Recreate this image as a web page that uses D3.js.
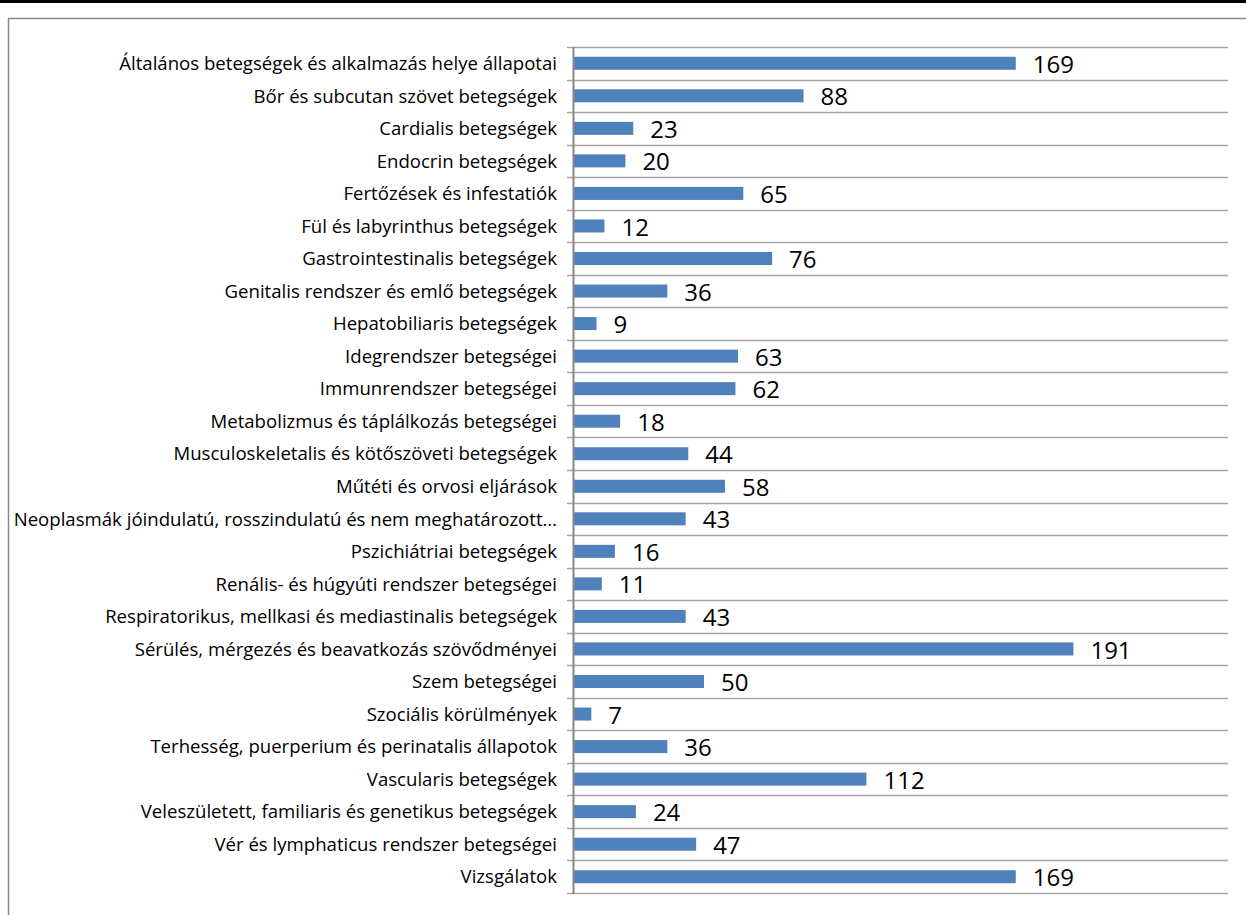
<!DOCTYPE html>
<html>
<head>
<meta charset="utf-8">
<script src="https://cdn.jsdelivr.net/npm/d3@7"></script>
<style>
  body { margin: 0; background: #fff; }
  svg { display: block; }
  text { font-family: "Open Sans", "Noto Sans", sans-serif; fill: #000; }
</style>
</head>
<body>
<div id="chart"></div>
<script>
// categories (top to bottom) and counts
const categories = [
  "Általános betegségek és alkalmazás helye állapotai",
  "Bőr és subcutan szövet betegségek",
  "Cardialis betegségek",
  "Endocrin betegségek",
  "Fertőzések és infestatiók",
  "Fül és labyrinthus betegségek",
  "Gastrointestinalis betegségek",
  "Genitalis rendszer és emlő betegségek",
  "Hepatobiliaris betegségek",
  "Idegrendszer betegségei",
  "Immunrendszer betegségei",
  "Metabolizmus és táplálkozás betegségei",
  "Musculoskeletalis és kötőszöveti betegségek",
  "Műtéti és orvosi eljárások",
  "Neoplasmák jóindulatú, rosszindulatú és nem meghatározott…",
  "Pszichiátriai betegségek",
  "Renális- és húgyúti rendszer betegségei",
  "Respiratorikus, mellkasi és mediastinalis betegségek",
  "Sérülés, mérgezés és beavatkozás szövődményei",
  "Szem betegségei",
  "Szociális körülmények",
  "Terhesség, puerperium és perinatalis állapotok",
  "Vascularis betegségek",
  "Veleszületett, familiaris és genetikus betegségek",
  "Vér és lymphaticus rendszer betegségei",
  "Vizsgálatok"
];
const counts = [169, 88, 23, 20, 65, 12, 76, 36, 9, 63, 62, 18, 44, 58, 43, 16, 11, 43, 191, 50, 7, 36, 112, 24, 47, 169];
const xMax = 250;

const width = 1246, height = 915;
const plot = {left: 573, right: 1228, top: 47, bottom: 893};

const svg = d3.select("#chart").append("svg")
  .attr("width", width)
  .attr("height", height);

// top black rule and chart frame
svg.append("rect").attr("x", 0).attr("y", 0).attr("width", width).attr("height", 3).attr("fill", "#000");
svg.append("rect")
  .attr("x", 8.5).attr("y", 18.5)
  .attr("width", width + 20).attr("height", height + 20)
  .attr("fill", "none").attr("stroke", "#878787").attr("stroke-width", 1.5);

const x = d3.scaleLinear().domain([0, xMax]).range([plot.left, plot.right]);
const y = d3.scaleBand().domain(categories).range([plot.top, plot.bottom]).paddingInner(0.6).paddingOuter(0.3);
const yEdges = d3.scaleBand().domain(categories).range([plot.top, plot.bottom]);

// horizontal separators between categories
const edges = categories.map(c => yEdges(c)).concat([plot.bottom]);
svg.append("g").selectAll("line")
  .data(edges)
  .join("line")
  .attr("x1", plot.left - 6).attr("x2", plot.right)
  .attr("y1", d => Math.round(d) + 0.5).attr("y2", d => Math.round(d) + 0.5)
  .attr("stroke", "#a6a6a6").attr("stroke-width", 1.5);

// bars
svg.append("g").selectAll("rect")
  .data(counts)
  .join("rect")
  .attr("x", x(0))
  .attr("y", (d, i) => y(categories[i]))
  .attr("width", d => x(d) - x(0))
  .attr("height", y.bandwidth())
  .attr("fill", "#4f81bd");

// value labels
svg.append("g").selectAll("text")
  .data(counts)
  .join("text")
  .attr("x", d => x(d) + 17)
  .attr("y", (d, i) => yEdges(categories[i]) + yEdges.bandwidth() / 2)
  .attr("dy", "0.4em")
  .attr("font-size", 24)
  .text(d => d);

// category labels
svg.append("g").selectAll("text")
  .data(categories)
  .join("text")
  .attr("x", 557)
  .attr("y", d => yEdges(d) + yEdges.bandwidth() / 2)
  .attr("dy", "0.36em")
  .attr("text-anchor", "end")
  .attr("font-size", 18.6)
  .text(d => d);

// vertical axis line
svg.append("line")
  .attr("x1", plot.left + 0.5).attr("x2", plot.left + 0.5)
  .attr("y1", plot.top).attr("y2", plot.bottom + 1)
  .attr("stroke", "#878787").attr("stroke-width", 2);
</script>
</body>
</html>
